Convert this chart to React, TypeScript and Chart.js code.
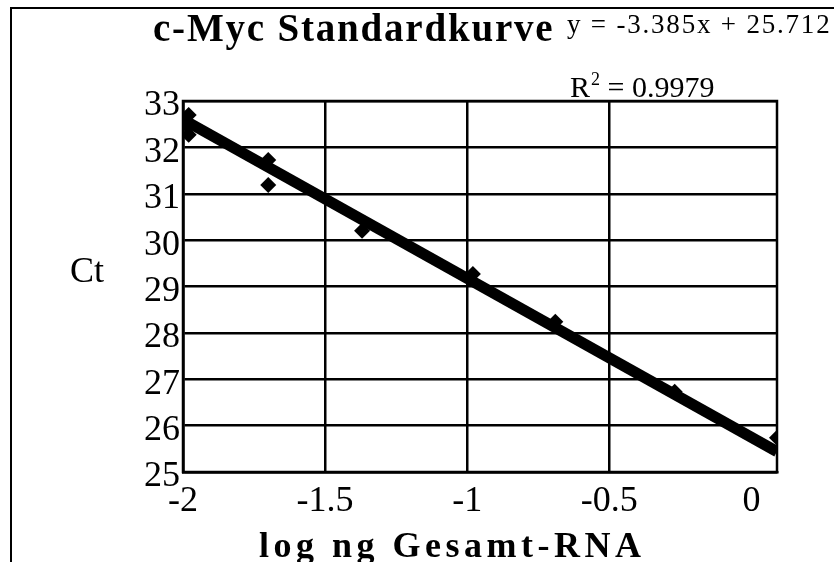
import React, { useEffect, useRef } from "react";
import { Chart, registerables } from "chart.js";

Chart.register(...registerables);

// ---- data ----
const logNg = [-1.98, -1.99, -1.98, -1.7, -1.7, -1.37, -0.98, -0.69, -0.27, 0.09];
const ctValues = [32.7, 32.5, 32.27, 31.73, 31.19, 30.2, 29.27, 28.24, 26.73, 25.74];
const trendX = [-2, 0.09];
const trendY = [32.6, 25.44];
const xTicks = [-2, -1.5, -1, -0.5, 0];
const xTickLabels = ["-2", "-1.5", "-1", "-0.5", "0"];
const xMin = -2;
const xMax = 0.09;
const yMin = 25;
const yMax = 33;
const yStep = 1;
const titleText = "c-Myc Standardkurve";
const equationText = "y = -3.385x + 25.712";
const r2Base = "R";
const r2Sup = "2";
const r2Value = " = 0.9979";
const yTitle = "Ct";
const xTitle = "log ng Gesamt-RNA";

const SERIF = '"Liberation Serif", "Times New Roman", serif';

const framePlugin = {
  id: "frameAndTexts",
  beforeDatasetsDraw(chart: any) {
    const { ctx, chartArea: a } = chart;
    ctx.save();
    ctx.strokeStyle = "#000";
    ctx.lineWidth = 2.5;
    ctx.strokeRect(a.left, a.top, a.right - a.left, a.bottom - a.top);
    ctx.restore();
  },
  afterDraw(chart: any) {
    const ctx = chart.ctx;
    ctx.save();
    ctx.fillStyle = "#000";
    ctx.textAlign = "left";
    ctx.textBaseline = "alphabetic";
    const put = (s: string, x: number, y: number, font: string, ls = 0) => {
      ctx.font = font;
      (ctx as any).letterSpacing = ls + "px";
      ctx.fillText(s, x, y);
      const w = ctx.measureText(s).width;
      return w;
    };
    put(titleText, 141, 32, `bold 39px ${SERIF}`, 1.8);
    put(equationText, 555, 24, `27px ${SERIF}`, 1.8);
    let x = 558;
    x += put(r2Base, x, 88, `30px ${SERIF}`, 0);
    x += put(r2Sup, x + 1, 76, `18px ${SERIF}`, 0) + 1;
    put(r2Value, x, 88, `30px ${SERIF}`, 0);
    put(yTitle, 58, 273, `36px ${SERIF}`, 0);
    put(xTitle, 247, 548, `bold 36px ${SERIF}`, 4.5);
    ctx.restore();
  },
};

export default function App() {
  const ref = useRef<HTMLCanvasElement | null>(null);

  useEffect(() => {
    if (!ref.current) return;
    const chart = new Chart(ref.current, {
      type: "scatter",
      data: {
        datasets: [
          {
            label: "Trend",
            data: trendX.map((x, i) => ({ x, y: trendY[i] })),
            showLine: true,
            borderColor: "#000",
            backgroundColor: "#000",
            borderWidth: 11,
            borderCapStyle: "butt",
            pointRadius: 0,
            pointHoverRadius: 0,
          },
          {
            label: "Ct",
            data: logNg.map((x, i) => ({ x, y: ctValues[i] })),
            pointStyle: "rectRot",
            pointRadius: 8,
            pointBorderWidth: 0,
            backgroundColor: "#000",
            borderColor: "#000",
            showLine: false,
          },
        ],
      } as any,
      options: {
        animation: false,
        responsive: false,
        layout: { padding: { left: 0, right: 57, top: 92, bottom: 0 } },
        plugins: {
          legend: { display: false },
          tooltip: { enabled: false },
          title: { display: false },
        },
        scales: {
          x: {
            type: "linear",
            min: xMin,
            max: xMax,
            afterBuildTicks: (scale: any) => {
              scale.ticks = xTicks.map((v) => ({ value: v }));
            },
            afterFit: (scale: any) => {
              scale.height = 90;
            },
            ticks: {
              callback: (v: any) => {
                const i = xTicks.indexOf(Number(v));
                return i >= 0 ? xTickLabels[i] : "";
              },
              color: "#000",
              font: { family: SERIF, size: 36 },
              padding: 8,
              maxRotation: 0,
              autoSkip: false,
            },
            grid: {
              color: (c: any) => (c.tick && c.tick.value === 0 ? "rgba(0,0,0,0)" : "#000"),
              lineWidth: 2.5,
              drawTicks: false,
            },
            border: { color: "#000", width: 2.5 },
          },
          y: {
            type: "linear",
            min: yMin,
            max: yMax,
            afterFit: (scale: any) => {
              scale.width = 171;
            },
            ticks: {
              stepSize: yStep,
              color: "#000",
              font: { family: SERIF, size: 36 },
              padding: 3,
              labelOffset: 5,
            },
            grid: { color: "#000", lineWidth: 2.5, drawTicks: false },
            border: { color: "#000", width: 2.5 },
          },
        },
      } as any,
      plugins: [framePlugin],
    });
    return () => chart.destroy();
  }, []);

  return (
    <div
      style={{
        position: "fixed",
        left: 10,
        top: 7,
        width: 824,
        height: 555,
        borderLeft: "2px solid #000",
        borderTop: "2px solid #000",
        boxSizing: "border-box",
        background: "#fff",
        overflow: "hidden",
      }}
    >
      <canvas ref={ref} width={822} height={553} style={{ display: "block" }} />
    </div>
  );
}
